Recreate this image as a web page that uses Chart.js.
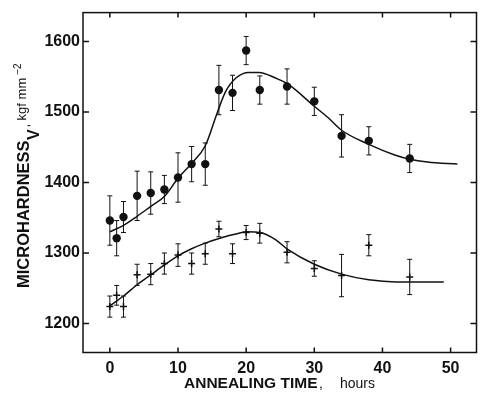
<!DOCTYPE html>
<html lang="en">
<head>
  <meta charset="UTF-8">
  <title>Microhardness vs annealing time</title>
  <style>
    html, body { margin: 0; padding: 0; background: white; }
    canvas#chartCanvas { display: block; }
  </style>
  <script src="https://cdn.jsdelivr.net/npm/chart.js"></script>
</head>
<body>
  <canvas id="chartCanvas" width="482" height="397"></canvas>

  <script>
    // measured points, hours / kgf mm-2
    const hours = [0, 1, 2, 4, 6, 8, 10, 12, 14, 16, 18, 20, 22, 26, 30, 34, 38, 44];
    const upperValues = [1346, 1321, 1351, 1381, 1385, 1390, 1407, 1426, 1426, 1531, 1527, 1587, 1531, 1536, 1515, 1466, 1459, 1434];
    const upperErrors = [35, 25, 22, 35, 30, 20, 35, 25, 30, 35, 25, 20, 20, 25, 20, 30, 20, 20];
    const lowerValues = [1224, 1240, 1224, 1269, 1270, 1285, 1297, 1285, 1299, 1334, 1299, 1329, 1328, 1301, 1278, 1268, 1311, 1266];
    const lowerErrors = [15, 14, 15, 15, 15, 15, 16, 15, 15, 11, 14, 10, 14, 15, 11, 30, 15, 25];

    // fitted curves
    const upperCurveHours = [0, 2, 4, 6, 8, 10, 12, 14, 15.8, 17, 18.5, 20.4, 21.9, 24.3, 26.2, 30, 32, 34, 38, 41.8, 44, 46.6, 51];
    const upperCurveValues = [1330, 1339, 1352, 1366, 1380, 1406, 1427, 1452, 1500, 1529, 1548, 1556, 1556, 1548, 1539, 1508, 1492, 1474, 1454, 1439, 1433, 1429, 1426];
    const lowerCurveHours = [0, 2, 4, 6, 8, 10, 12, 14, 16.5, 18.5, 20.2, 22, 24.3, 26.1, 30, 34, 38, 42, 44, 49];
    const lowerCurveValues = [1225, 1239, 1255, 1269, 1283, 1296, 1306, 1314, 1322, 1327, 1330, 1329, 1319, 1305, 1284, 1270, 1262, 1259, 1259, 1259];

    const xTicks = [0, 10, 20, 30, 40, 50];
    const yTicks = [1200, 1300, 1400, 1500, 1600];

    const ink = "#111";
    const fam = "'Liberation Sans', Arial, sans-serif";

    const toPoints = (xs, ys) => xs.map((x, i) => ({ x: x, y: ys[i] }));

    // error bars, frame, inward ticks and axis titles
    const decor = {
      id: "decor",
      beforeDatasetsDraw(chart) {
        const ctx = chart.ctx;
        const xs = chart.scales.x, ys = chart.scales.y;
        ctx.save();
        ctx.strokeStyle = ink;
        ctx.lineWidth = 1;
        [[upperValues, upperErrors], [lowerValues, lowerErrors]].forEach(([vals, errs]) => {
          hours.forEach((h, i) => {
            const px = xs.getPixelForValue(h);
            const top = ys.getPixelForValue(vals[i] + errs[i]);
            const bot = ys.getPixelForValue(vals[i] - errs[i]);
            ctx.beginPath();
            ctx.moveTo(px, top); ctx.lineTo(px, bot);
            ctx.moveTo(px - 2.5, top); ctx.lineTo(px + 2.5, top);
            ctx.moveTo(px - 2.5, bot); ctx.lineTo(px + 2.5, bot);
            ctx.stroke();
          });
        });
        ctx.restore();
      },
      afterDraw(chart) {
        const ctx = chart.ctx;
        const a = chart.chartArea;
        const xs = chart.scales.x, ys = chart.scales.y;
        ctx.save();
        ctx.strokeStyle = ink;
        ctx.lineWidth = 1.5;
        ctx.strokeRect(a.left, a.top, a.right - a.left, a.bottom - a.top);
        ctx.beginPath();
        xTicks.forEach(v => {
          const px = xs.getPixelForValue(v);
          ctx.moveTo(px, a.bottom); ctx.lineTo(px, a.bottom - 5);
          ctx.moveTo(px, a.top); ctx.lineTo(px, a.top + 5);
        });
        yTicks.forEach(v => {
          const py = ys.getPixelForValue(v);
          ctx.moveTo(a.left, py); ctx.lineTo(a.left + 6, py);
          ctx.moveTo(a.right, py); ctx.lineTo(a.right - 6, py);
        });
        ctx.stroke();

        // x title
        ctx.fillStyle = ink;
        ctx.textBaseline = "alphabetic";
        ctx.textAlign = "left";
        ctx.font = "bold 15.5px " + fam;
        ctx.fillText("ANNEALING TIME", 184, 388);
        ctx.font = "14px " + fam;
        ctx.fillText(",", 319, 388);
        ctx.fillText("hours", 340, 388);

        // y title, rotated, with subscript V and superscript -2
        ctx.translate(28.5, 288);
        ctx.rotate(-Math.PI / 2);
        const parts = [
          ["MICROHARDNESS", "bold 16.5px ", 0, 0],
          ["V", "bold 16px ", 10, 0.5],
          [",", "12px ", 0, 2],
          ["kgf mm", "13px ", -3, 3.5],
          ["\u22122", "10px ", -8, 3]
        ];
        let x = 0;
        parts.forEach(([t, f, dy, gap]) => {
          x += gap;
          ctx.font = f + fam;
          ctx.fillText(t, x, dy);
          x += ctx.measureText(t).width;
        });
        ctx.restore();
      }
    };

    new Chart(document.getElementById("chartCanvas"), {
      type: "scatter",
      data: {
        datasets: [
          {
            data: toPoints(upperCurveHours, upperCurveValues),
            showLine: true, borderColor: ink, borderWidth: 1.5,
            pointRadius: 0, cubicInterpolationMode: "monotone"
          },
          {
            data: toPoints(lowerCurveHours, lowerCurveValues),
            showLine: true, borderColor: ink, borderWidth: 1.5,
            pointRadius: 0, cubicInterpolationMode: "monotone"
          },
          {
            data: toPoints(hours, upperValues),
            pointStyle: "circle", pointRadius: 4.2,
            backgroundColor: ink, borderColor: ink, borderWidth: 0
          },
          {
            data: toPoints(hours, lowerValues),
            pointStyle: "cross", pointRadius: 3.5,
            borderColor: ink, borderWidth: 1.5
          }
        ]
      },
      options: {
        responsive: false,
        animation: false,
        devicePixelRatio: 1,
        layout: { padding: { left: 0, right: 3, top: 10, bottom: 0 } },
        plugins: { legend: { display: false }, tooltip: { enabled: false } },
        scales: {
          x: {
            type: "linear", min: -3.94, max: 53.8,
            grid: { display: false, drawTicks: false },
            border: { display: false },
            ticks: { color: ink, font: { family: fam, size: 16, weight: "bold" }, padding: 6, callback: v => String(v) },
            afterBuildTicks: s => { s.ticks = xTicks.map(v => ({ value: v })); },
            afterFit: s => { s.height = 44.5; }
          },
          y: {
            type: "linear", min: 1158.9, max: 1640.8,
            grid: { display: false, drawTicks: false },
            border: { display: false },
            ticks: { color: ink, font: { family: fam, size: 16, weight: "bold" }, padding: 3, callback: v => String(v) },
            afterBuildTicks: s => { s.ticks = yTicks.map(v => ({ value: v })); },
            afterFit: s => { s.width = 83; }
          }
        }
      },
      plugins: [decor]
    });
  </script>
</body>
</html>
